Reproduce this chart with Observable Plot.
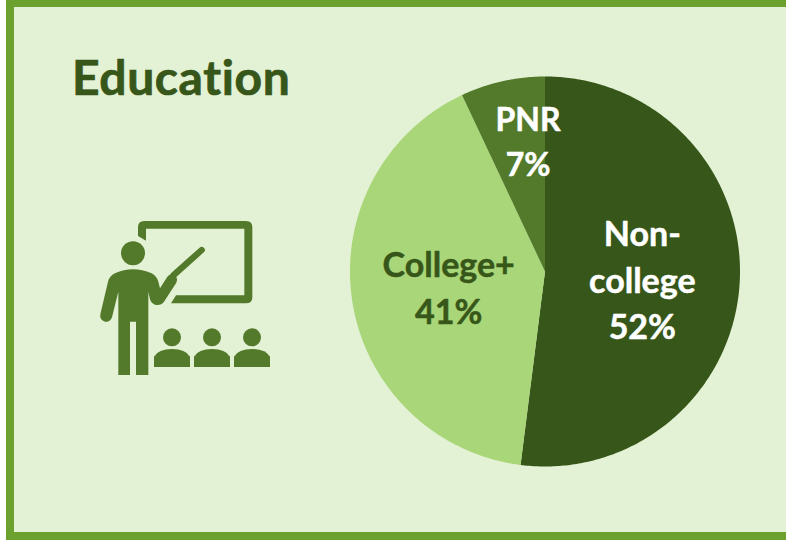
<!DOCTYPE html>
<html>
<head>
<meta charset="utf-8">
<script src="https://cdn.jsdelivr.net/npm/d3@7"></script>
<script src="https://cdn.jsdelivr.net/npm/@observablehq/plot@0.6"></script>
<style>
  html, body { margin: 0; padding: 0; background: #fff; }
  #page { position: relative; width: 786px; height: 540px; overflow: hidden; font-family: Lato, sans-serif; }
  #panel { position: absolute; left: 6px; top: 0; width: 790px; height: 540px; box-sizing: border-box;
           background: #E3F1D4; border: 8px solid #6CA130; border-top-width: 7px; }
  #title { position: absolute; left: 72px; top: 49px; margin: 0; font: 700 48px/56px Lato, sans-serif; color: #375619;
           font-variant-ligatures: none; letter-spacing: 0.6px; -webkit-text-stroke: 0.7px #375619; }
  #icon { position: absolute; left: 90px; top: 210px; }
  #chart { position: absolute; left: 0; top: 0; }
  #chart svg { background: transparent; display: block; font-variant-ligatures: none; }
</style>
</head>
<body>
<div id="page">
  <div id="panel"></div>
  <h1 id="title">Education</h1>
  <svg id="icon" width="190" height="175" viewBox="0 0 570 525" fill="#537A2A">
    <path d="M144,78 V52 Q144,33 163,33 H468 Q487,33 487,52 V262 Q487,280 468,280 H243 L258,256 H463 V56 H168 V92 Z"/>
    <path d="M250,196 L335,120" stroke="#537A2A" stroke-width="19" stroke-linecap="round"/>
    <circle cx="129" cy="130" r="36"/>
    <path d="M85,495 V245 L66,322 Q60,338 45,335 Q28,330 31,313 L54,215 Q58,198 75,190 Q128,165 185,190 Q200,198 205,215 L210,235 L232,200 Q240,190 252,195 Q266,203 259,218 L222,275 Q212,288 195,284 Q183,280 180,268 L175,245 V495 H138 V335 H120 V495 Z"/>
    <g id="aud">
      <circle cx="246" cy="382" r="27"/>
      <path d="M192,471 V440 Q205,417 246,417 Q287,417 300,440 V471 Z"/>
      <circle cx="366" cy="382" r="27"/>
      <path d="M312,471 V440 Q325,417 366,417 Q407,417 420,440 V471 Z"/>
      <circle cx="486" cy="382" r="27"/>
      <path d="M432,471 V440 Q445,417 486,417 Q527,417 540,440 V471 Z"/>
    </g>
  </svg>
  <div id="chart"></div>
</div>
<script>
// Data
const categories = ["Non-college", "College+", "PNR"];
const shares = [52, 41, 7];
const labels = ["Non-\ncollege\n52%", "College+\n41%", "PNR\n7%"];
const sliceColors = ["#375619", "#A9D678", "#537A2A"];
const labelColors = ["#ffffff", "#375619", "#ffffff"];

// Slice outlines and label anchors derived from the shares
const pie = d3.pie().sort(null).value(d => d)(shares);
const slices = pie.flatMap((p, i) => {
  const n = Math.max(2, Math.ceil((p.endAngle - p.startAngle) * 90));
  const arc = d3.range(n + 1).map(k => p.startAngle + (p.endAngle - p.startAngle) * k / n);
  return [{a: 0, r: 0}, ...arc.map(a => ({a, r: 1}))].map(o => ({
    category: categories[i],
    x: o.r * Math.sin(o.a),
    y: o.r * Math.cos(o.a)
  }));
});
const anchor = (i, r) => {
  const mid = (pie[i].startAngle + pie[i].endAngle) / 2;
  return {category: categories[i], label: labels[i], x: r * Math.sin(mid), y: r * Math.cos(mid)};
};

const labelMark = (i, r, dx, dy, fontSize, lineHeight) => Plot.text([anchor(i, r)], {
  x: "x", y: "y", text: "label", dx, dy,
  fill: labelColors[i], stroke: labelColors[i], strokeWidth: 0.5,
  fontSize, fontWeight: 700, fontFamily: "Lato, sans-serif",
  lineHeight, lineAnchor: "middle", textAnchor: "middle"
});

const plot = Plot.plot({
  width: 786,
  height: 540,
  margin: 0,
  style: {background: "transparent"},
  x: {domain: [-1, 1], range: [349.5, 739.5], axis: null},
  y: {domain: [-1, 1], range: [466, 76], axis: null},
  color: {domain: categories, range: sliceColors},
  marks: [
    Plot.line(slices, {x: "x", y: "y", z: "category", fill: "category", stroke: null, curve: "linear-closed"}),
    labelMark(0, 0.5, 0, 0, 34, 1.37),
    labelMark(1, 0.5, 0, -1, 34, 1.36),
    labelMark(2, 0.68, 12, -3, 32, 1.39)
  ]
});
document.getElementById("chart").appendChild(plot);
</script>
</body>
</html>
